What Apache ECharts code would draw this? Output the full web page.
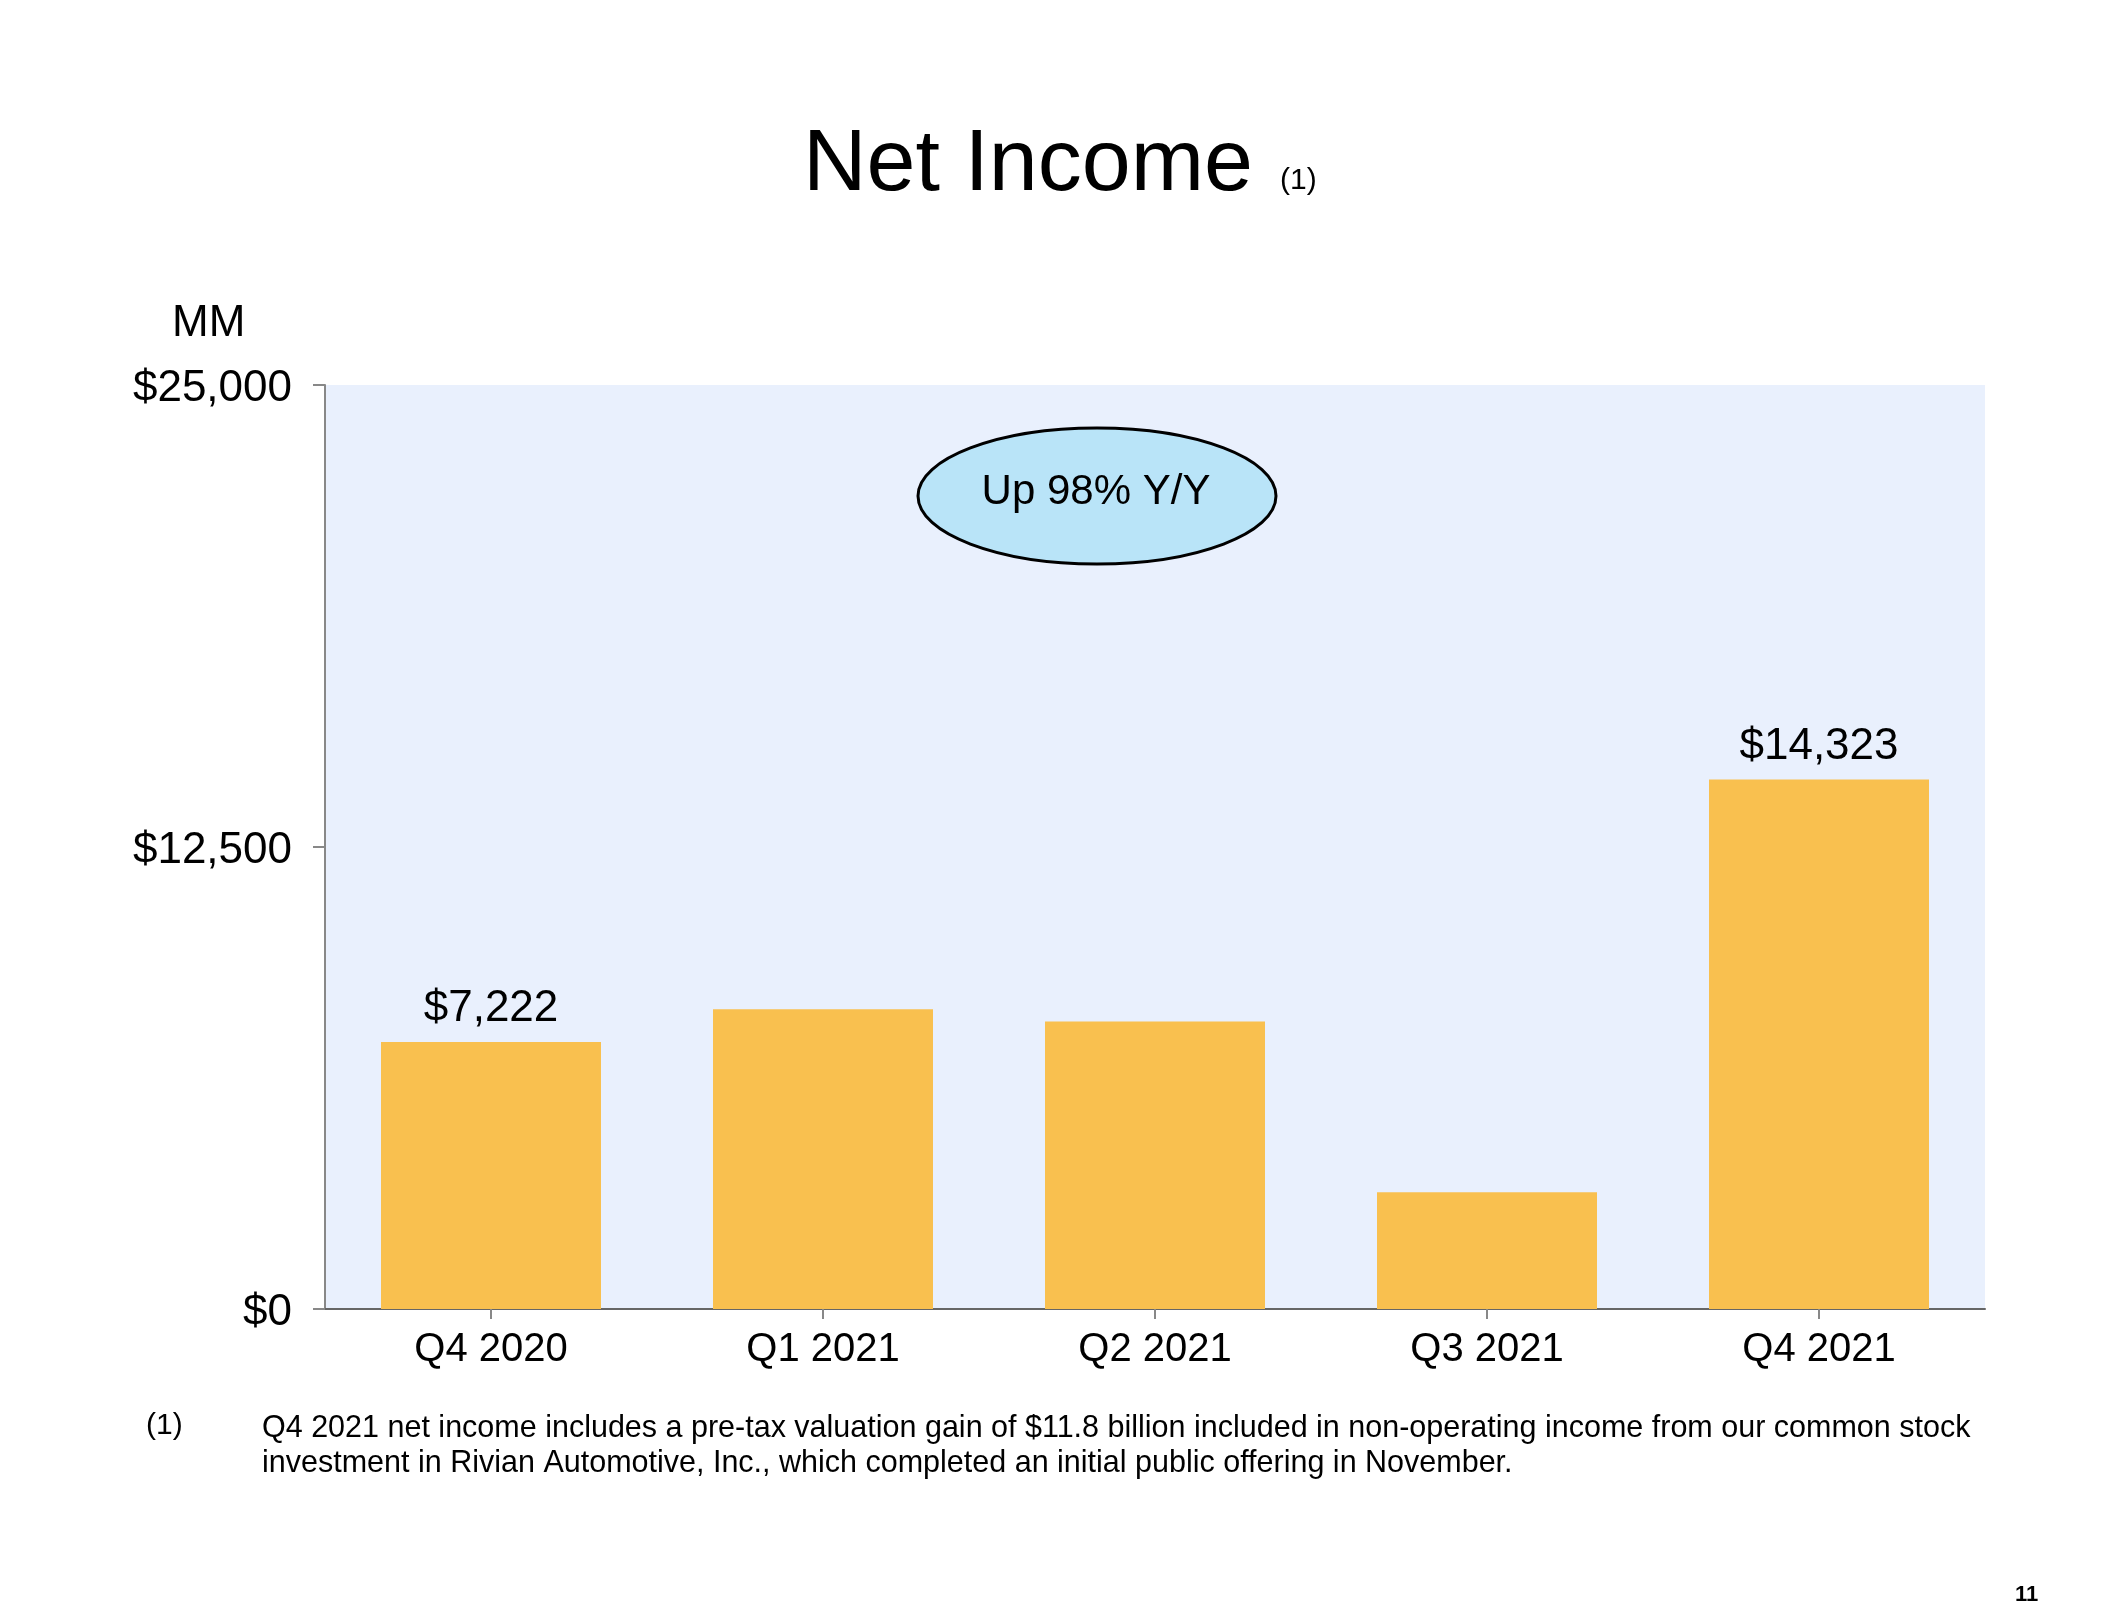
<!DOCTYPE html>
<html>
<head>
<meta charset="utf-8">
<script src="https://cdn.jsdelivr.net/npm/echarts@6/dist/echarts.min.js"></script>
<style>html,body{margin:0;padding:0;background:#fff;}#c{width:2119px;height:1619px;}</style>
</head>
<body>
<div id="c"></div>
<script>
const categories = ['Q4 2020', 'Q1 2021', 'Q2 2021', 'Q3 2021', 'Q4 2021'];
const netIncome = [7222, 8107, 7778, 3156, 14323];
const labelledIndex = [0, 4];
const yTicks = [0, 12500, 25000];
const titleText = 'Net Income';
const titleNote = '(1)';
const unitLabel = 'MM';
const calloutText = 'Up 98% Y/Y';
const footnoteMark = '(1)';
const footnoteLines = [
  'Q4 2021 net income includes a pre-tax valuation gain of $11.8 billion included in non-operating income from our common stock',
  'investment in Rivian Automotive, Inc., which completed an initial public offering in November.'
];
const pageNumber = '11';

const FONT = '"Liberation Sans", Arial, sans-serif';
const fmt = v => '$' + v.toLocaleString('en-US');

const chart = echarts.init(document.getElementById('c'), null, {renderer: 'canvas'});
chart.setOption({
  backgroundColor: '#ffffff',
  animation: false,
  textStyle: {fontFamily: FONT},
  grid: {left: 325, right: 134, top: 385, bottom: 310, show: true, backgroundColor: '#e9f0fd', borderWidth: 0},
  xAxis: {
    type: 'category',
    data: categories,
    axisLine: {lineStyle: {color: '#666666', width: 2}},
    axisTick: {show: true, alignWithLabel: true, length: 10, lineStyle: {color: '#888888', width: 2}},
    axisLabel: {color: '#000', fontSize: 40, fontFamily: FONT, margin: 21}
  },
  yAxis: {
    type: 'value',
    min: yTicks[0], max: yTicks[yTicks.length - 1], interval: yTicks[1] - yTicks[0],
    splitLine: {show: false},
    axisLine: {show: true, lineStyle: {color: '#888888', width: 2}},
    axisTick: {show: true, length: 12, lineStyle: {color: '#888888', width: 2}},
    axisLabel: {
      color: '#000', fontSize: 44, fontFamily: FONT, margin: 33,
      formatter: v => '{a|' + fmt(v) + '}',
      rich: {a: {color: '#000', fontSize: 44, fontFamily: FONT, padding: [8, 0, 0, 0]}}
    }
  },
  series: [{
    type: 'bar',
    data: netIncome.map((v, i) => ({
      value: v,
      label: {show: labelledIndex.includes(i)}
    })),
    barWidth: 220,
    itemStyle: {color: '#f9c04f'},
    label: {position: 'top', distance: 11, color: '#000', fontSize: 44, fontFamily: FONT, formatter: p => fmt(p.value)}
  }],
  graphic: [
    {type: 'text', left: 803, top: 122, style: {text: titleText, fontSize: 88, fontFamily: FONT, fill: '#000'}},
    {type: 'text', left: 1280, top: 166, style: {text: titleNote, fontSize: 30, fontFamily: FONT, fill: '#000'}},
    {type: 'text', left: 172, top: 302, style: {text: unitLabel, fontSize: 44, fontFamily: FONT, fill: '#000'}},
    {type: 'ellipse', shape: {cx: 1097, cy: 496, rx: 179, ry: 68}, style: {fill: '#b9e4f8', stroke: '#000', lineWidth: 3}, z: 10},
    {type: 'text', x: 1096, y: 492, z: 11, style: {text: calloutText, fontSize: 42, fontFamily: FONT, fill: '#000', align: 'center', verticalAlign: 'middle'}},
    {type: 'text', left: 146, top: 1411, style: {text: footnoteMark, fontSize: 30, fontFamily: FONT, fill: '#000'}},
    {type: 'text', left: 262, top: 1411, style: {text: footnoteLines.join('\n'), fontSize: 30.5, lineHeight: 35, fontFamily: FONT, fill: '#000'}},
    {type: 'text', left: 2015, top: 1584, style: {text: pageNumber, fontSize: 22, fontWeight: 'bold', fontFamily: FONT, fill: '#000'}}
  ]
});
</script>
</body>
</html>
